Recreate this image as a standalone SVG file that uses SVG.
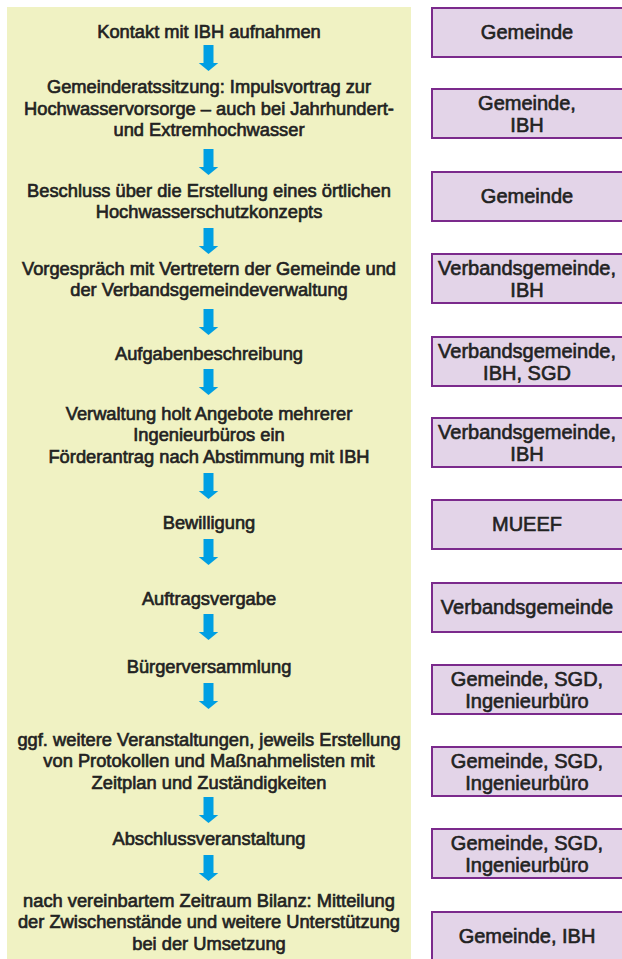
<svg xmlns="http://www.w3.org/2000/svg" xmlns:xlink="http://www.w3.org/1999/xlink" width="622" height="959" viewBox="0 0 622 959">
<style>
.panel{fill:#F0F2C3}
.box{fill:#E3D4E8;stroke:#7B2A8C;stroke-width:2}
.t{font-family:"Liberation Sans",Arial,sans-serif;font-size:18.3px;fill:#222;stroke:#222;stroke-width:0.65;text-anchor:middle}
.b{font-family:"Liberation Sans",Arial,sans-serif;font-size:20px;fill:#222;stroke:#222;stroke-width:0.6;text-anchor:middle}
.arr{fill:#009FE3}
</style>
<defs>
<path id="arrow" class="arr" d="M-5,0 H5 V18 H9.75 L0,26 L-9.75,18 H-5 Z"/>
</defs>
<rect class="panel" x="7" y="7" width="404" height="960"/>
<g id="connectors">
<use xlink:href="#arrow" x="208.5" y="45"/>
<use xlink:href="#arrow" x="208.5" y="149"/>
<use xlink:href="#arrow" x="208.5" y="228"/>
<use xlink:href="#arrow" x="208.5" y="309"/>
<use xlink:href="#arrow" x="208.5" y="369"/>
<use xlink:href="#arrow" x="208.5" y="473"/>
<use xlink:href="#arrow" x="208.5" y="539"/>
<use xlink:href="#arrow" x="208.5" y="614"/>
<use xlink:href="#arrow" x="208.5" y="683"/>
<use xlink:href="#arrow" x="208.5" y="797"/>
<use xlink:href="#arrow" x="208.5" y="855"/>
</g>
<g id="step1"><text class="t" x="209" y="37.5">Kontakt mit IBH aufnahmen</text></g>
<g id="step2"><text class="t" x="209" y="93">Gemeinderatssitzung: Impulsvortrag zur</text><text class="t" x="209" y="114.5">Hochwasservorsorge – auch bei Jahrhundert-</text><text class="t" x="209" y="136">und Extremhochwasser</text></g>
<g id="step3"><text class="t" x="209" y="196.5">Beschluss über die Erstellung eines örtlichen</text><text class="t" x="209" y="218">Hochwasserschutzkonzepts</text></g>
<g id="step4"><text class="t" x="209" y="274.5">Vorgespräch mit Vertretern der Gemeinde und</text><text class="t" x="209" y="296">der Verbandsgemeindeverwaltung</text></g>
<g id="step5"><text class="t" x="209" y="359.5">Aufgabenbeschreibung</text></g>
<g id="step6"><text class="t" x="209" y="419.5">Verwaltung holt Angebote mehrerer</text><text class="t" x="209" y="441">Ingenieurbüros ein</text><text class="t" x="209" y="462.5">Förderantrag nach Abstimmung mit IBH</text></g>
<g id="step7"><text class="t" x="209" y="528.5">Bewilligung</text></g>
<g id="step8"><text class="t" x="209" y="604.5">Auftragsvergabe</text></g>
<g id="step9"><text class="t" x="209" y="672.5">Bürgerversammlung</text></g>
<g id="step10"><text class="t" x="209" y="745.5">ggf. weitere Veranstaltungen, jeweils Erstellung</text><text class="t" x="209" y="767">von Protokollen und Maßnahmelisten mit</text><text class="t" x="209" y="788.5">Zeitplan und Zuständigkeiten</text></g>
<g id="step11"><text class="t" x="209" y="844.5">Abschlussveranstaltung</text></g>
<g id="step12"><text class="t" x="209" y="906.5">nach vereinbartem Zeitraum Bilanz: Mitteilung</text><text class="t" x="209" y="928">der Zwischenstände und weitere Unterstützung</text><text class="t" x="209" y="949.5">bei der Umsetzung</text></g>
<g id="role1"><rect class="box" x="432" y="8" width="200" height="49"/><text class="b" x="527" y="39">Gemeinde</text></g>
<g id="role2"><rect class="box" x="432" y="89" width="200" height="49"/><text class="b" x="527" y="109.5">Gemeinde,</text><text class="b" x="527" y="132">IBH</text></g>
<g id="role3"><rect class="box" x="432" y="172" width="200" height="49"/><text class="b" x="527" y="203">Gemeinde</text></g>
<g id="role4"><rect class="box" x="432" y="254" width="200" height="49"/><text class="b" x="527" y="274.5">Verbandsgemeinde,</text><text class="b" x="527" y="297">IBH</text></g>
<g id="role5"><rect class="box" x="432" y="337" width="200" height="49"/><text class="b" x="527" y="357.5">Verbandsgemeinde,</text><text class="b" x="527" y="380">IBH, SGD</text></g>
<g id="role6"><rect class="box" x="432" y="418" width="200" height="49"/><text class="b" x="527" y="438.5">Verbandsgemeinde,</text><text class="b" x="527" y="461">IBH</text></g>
<g id="role7"><rect class="box" x="432" y="500" width="200" height="49"/><text class="b" x="527" y="531">MUEEF</text></g>
<g id="role8"><rect class="box" x="432" y="583" width="200" height="49"/><text class="b" x="527" y="614">Verbandsgemeinde</text></g>
<g id="role9"><rect class="box" x="432" y="665" width="200" height="49"/><text class="b" x="527" y="685.5">Gemeinde, SGD,</text><text class="b" x="527" y="708">Ingenieurbüro</text></g>
<g id="role10"><rect class="box" x="432" y="747" width="200" height="49"/><text class="b" x="527" y="767.5">Gemeinde, SGD,</text><text class="b" x="527" y="790">Ingenieurbüro</text></g>
<g id="role11"><rect class="box" x="432" y="829" width="200" height="49"/><text class="b" x="527" y="849.5">Gemeinde, SGD,</text><text class="b" x="527" y="872">Ingenieurbüro</text></g>
<g id="role12"><rect class="box" x="432" y="912" width="200" height="60"/><text class="b" x="527" y="943">Gemeinde, IBH</text></g>
</svg>
